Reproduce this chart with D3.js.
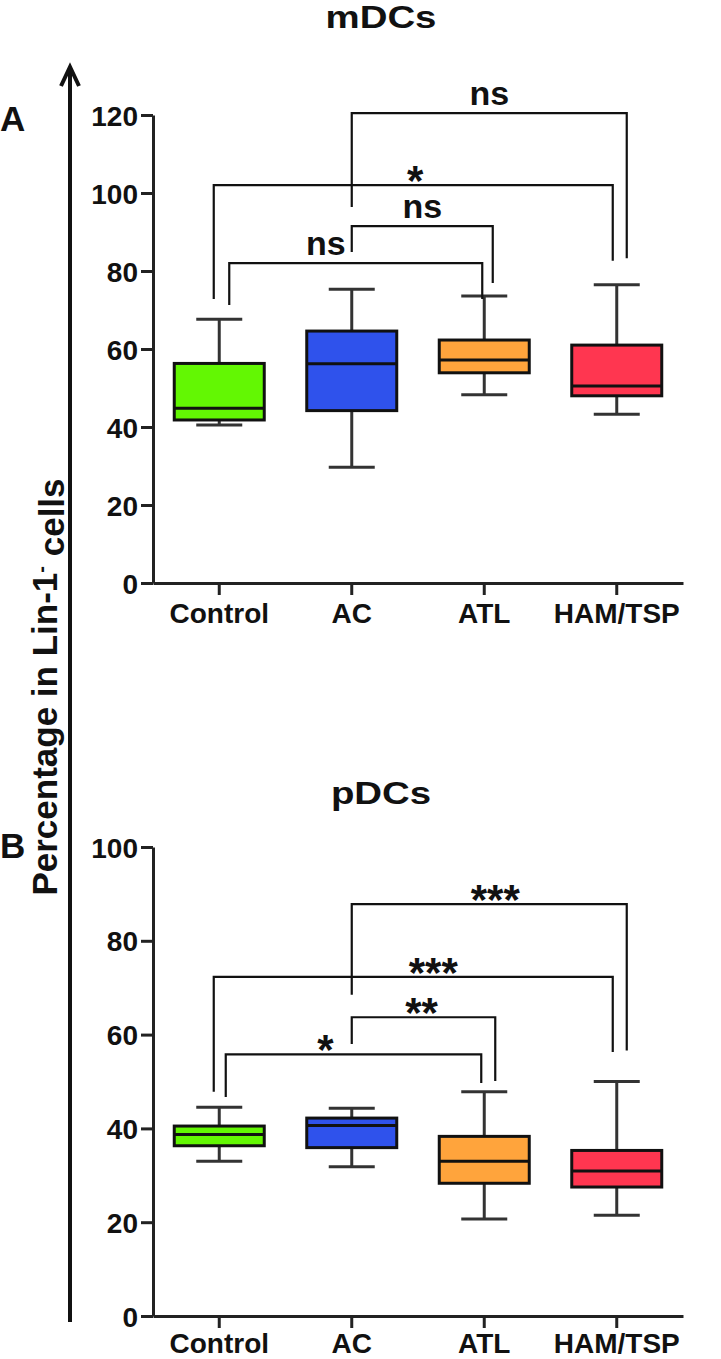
<!DOCTYPE html>
<html>
<head>
<meta charset="utf-8">
<script src="https://cdn.jsdelivr.net/npm/d3@7"></script>
<style>
  body { margin: 0; background: #fff; }
  text { font-family: 'Liberation Sans', Arial, sans-serif; font-weight: bold; fill: #111; }
</style>
</head>
<body>
<div id="chart"></div>
<script>
/* global d3 */

// groups on the x axis
var categories = ['Control', 'AC', 'ATL', 'HAM/TSP'];
var boxColors = ['#63f703', '#2f52ec', '#ffa43c', '#ff3650'];

// mDCs (panel A), percent of Lin-1- cells
var mdcLow = [40.5, 29.7, 48.3, 43.3];
var mdcQ1 = [41.8, 44.2, 53.9, 48.0];
var mdcMedian = [44.8, 56.2, 57.2, 50.5];
var mdcQ3 = [56.3, 64.6, 62.3, 61.0];
var mdcHigh = [67.6, 75.3, 73.6, 76.5];
var mdcTicks = [0, 20, 40, 60, 80, 100, 120];

// pDCs (panel B)
var pdcLow = [33.0, 31.8, 20.7, 21.5];
var pdcQ1 = [36.3, 35.9, 28.3, 27.5];
var pdcMedian = [38.7, 40.6, 33.0, 30.9];
var pdcQ3 = [40.5, 42.2, 38.3, 35.3];
var pdcHigh = [44.5, 44.3, 47.8, 50.0];
var pdcTicks = [0, 20, 40, 60, 80, 100];

// significance brackets: level of the bar and where each leg stops (in %)
var mdcFrom = ['AC', 'Control', 'AC', 'Control'];
var mdcTo = ['HAM/TSP', 'HAM/TSP', 'ATL', 'ATL'];
var mdcLevel = [120.5, 102, 91.5, 82];
var mdcFromEnd = [96.4, 72.8, 84.9, 71.3];
var mdcToEnd = [83.3, 82.6, 76.9, 72.8];
var mdcSig = ['ns', '*', 'ns', 'ns'];

var pdcFrom = ['AC', 'Control', 'AC', 'Control'];
var pdcTo = ['HAM/TSP', 'HAM/TSP', 'ATL', 'ATL'];
var pdcLevel = [87.8, 72.3, 63.7, 55.8];
var pdcFromEnd = [68.5, 47.8, 58.0, 46.7];
var pdcToEnd = [56.6, 56.3, 50.1, 49.7];
var pdcSig = ['***', '***', '**', '*'];

var WIDTH = 721;
var HEIGHT = 1359;

var svg = d3.select('#chart')
  .append('svg')
  .attr('width', WIDTH)
  .attr('height', HEIGHT)
  .style('background', 'white');

var x = d3.scaleBand().domain(categories).range([153, 683]).padding(0);
function center(c) { return x(c) + x.bandwidth() / 2; }

var BOX_W = 90;
var CAP_W = 46;

function drawPanel(p) {
  'use strict';

  var y = d3.scaleLinear().domain([0, p.max]).range([p.bottom, p.top]);
  var g = svg.append('g');

  // title, stretched a little like the original
  g.append('text')
    .attr('transform', 'translate(381,' + p.titleY + ') scale(1.2,1)')
    .attr('text-anchor', 'middle')
    .attr('font-size', '32px')
    .text(p.title);

  g.append('text')
    .attr('x', 0)
    .attr('y', p.letterY)
    .attr('font-size', '35px')
    .text(p.letter);

  // axes
  var yAxis = g.append('g')
    .attr('transform', 'translate(153,0)')
    .call(d3.axisLeft(y).tickValues(p.ticks).tickSize(12).tickSizeOuter(0).tickPadding(3));
  yAxis.selectAll('text').attr('font-size', '28px').attr('dy', '0.36em');

  var xAxis = g.append('g')
    .attr('transform', 'translate(0,' + p.bottom + ')')
    .call(d3.axisBottom(x).tickSize(12).tickSizeOuter(0).tickPadding(p.xPad));
  xAxis.selectAll('text').attr('font-size', '28px');

  g.selectAll('.domain, .tick line')
    .attr('stroke', '#222')
    .attr('stroke-width', 3);
  g.selectAll('.tick text')
    .style('font-family', "'Liberation Sans', Arial, sans-serif")
    .style('font-weight', 'bold')
    .attr('fill', '#111');

  // boxes
  categories.forEach(function(c, i) {
    var cx = center(c);
    var bg = g.append('g');

    bg.append('line')
      .attr('x1', cx).attr('x2', cx)
      .attr('y1', y(p.high[i])).attr('y2', y(p.low[i]))
      .attr('stroke', '#333').attr('stroke-width', 3);

    [p.high[i], p.low[i]].forEach(function(v) {
      bg.append('line')
        .attr('x1', cx - CAP_W / 2).attr('x2', cx + CAP_W / 2)
        .attr('y1', y(v)).attr('y2', y(v))
        .attr('stroke', '#333').attr('stroke-width', 3);
    });

    bg.append('rect')
      .attr('x', cx - BOX_W / 2)
      .attr('y', y(p.q3[i]))
      .attr('width', BOX_W)
      .attr('height', y(p.q1[i]) - y(p.q3[i]))
      .attr('fill', boxColors[i])
      .attr('stroke', '#111')
      .attr('stroke-width', 3);

    bg.append('line')
      .attr('x1', cx - BOX_W / 2).attr('x2', cx + BOX_W / 2)
      .attr('y1', y(p.median[i])).attr('y2', y(p.median[i]))
      .attr('stroke', '#111').attr('stroke-width', 3);
  });

  // significance brackets
  p.from.forEach(function(f, i) {
    var x1 = center(f) + p.nudge[i][0];
    var x2 = center(p.to[i]) + p.nudge[i][1];
    var ly = y(p.level[i]);

    g.append('path')
      .attr('d', 'M' + x1 + ',' + y(p.fromEnd[i]) + 'V' + ly + 'H' + x2 + 'V' + y(p.toEnd[i]))
      .attr('fill', 'none')
      .attr('stroke', '#111')
      .attr('stroke-width', 2.2);

    var isStar = p.sig[i].charAt(0) === '*';
    g.append('text')
      .attr('x', (x1 + x2) / 2 + p.nudge[i][2])
      .attr('y', isStar ? ly + 10 : ly - 8)
      .attr('text-anchor', 'middle')
      .attr('font-size', isStar ? '42px' : '34px')
      .text(p.sig[i]);
  });
}

drawPanel({
  title: 'mDCs', titleY: 28, letter: 'A', letterY: 131,
  top: 115, bottom: 583, max: 120, ticks: mdcTicks, xPad: 8,
  low: mdcLow, q1: mdcQ1, median: mdcMedian, q3: mdcQ3, high: mdcHigh,
  from: mdcFrom, to: mdcTo, level: mdcLevel, fromEnd: mdcFromEnd, toEnd: mdcToEnd, sig: mdcSig,
  nudge: [[0, 10, 0], [-5.5, -4, 2], [0, 8.5, 0], [10, -2, -30]]
});

drawPanel({
  title: 'pDCs', titleY: 804, letter: 'B', letterY: 858,
  top: 847, bottom: 1316, max: 100, ticks: pdcTicks, xPad: 5,
  low: pdcLow, q1: pdcQ1, median: pdcMedian, q3: pdcQ3, high: pdcHigh,
  from: pdcFrom, to: pdcTo, level: pdcLevel, fromEnd: pdcFromEnd, toEnd: pdcToEnd, sig: pdcSig,
  nudge: [[0, 10, 6], [-5.5, -4, 20], [0, 11, -2], [6.5, -3, -28]]
});

// long arrow shared by both panels
svg.append('line')
  .attr('x1', 70).attr('x2', 70)
  .attr('y1', 1322).attr('y2', 68)
  .attr('stroke', '#111').attr('stroke-width', 4);
svg.append('path')
  .attr('d', 'M61,86L70,67L79,86')
  .attr('fill', 'none')
  .attr('stroke', '#111')
  .attr('stroke-width', 4);

// y label with superscript minus
var ylab = svg.append('text')
  .attr('transform', 'translate(57,687) rotate(-90)')
  .attr('text-anchor', 'middle')
  .attr('font-size', '35px');
ylab.append('tspan').text('Percentage in Lin-1');
ylab.append('tspan').attr('dy', '-0.45em').attr('font-size', '20px').text('-');
ylab.append('tspan').attr('dy', '0.45em').text(' cells');
</script>
</body>
</html>
